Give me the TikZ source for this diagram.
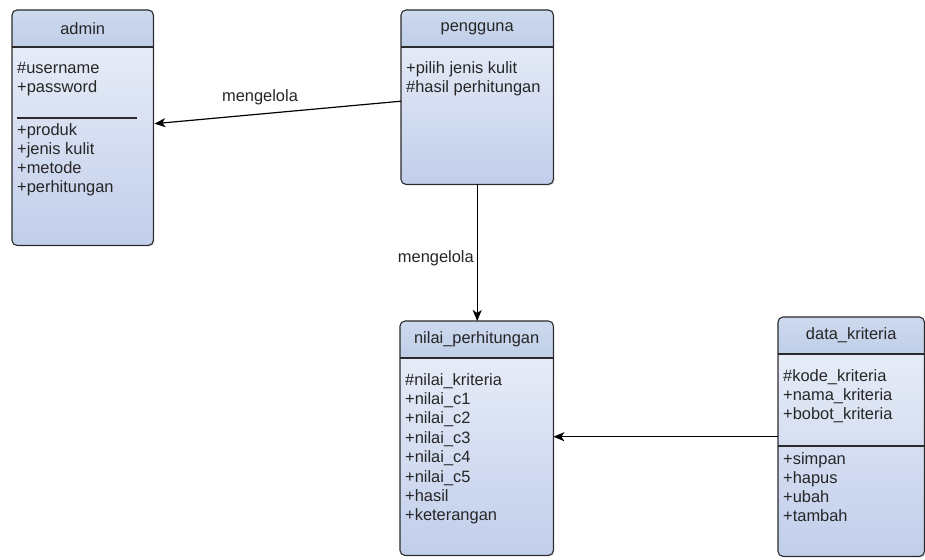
\documentclass[tikz,border=0pt]{standalone}
\usepackage{fontspec}
\setmainfont{Liberation Sans}
\usetikzlibrary{arrows.meta,calc,shadows}

\definecolor{hdrtop}{HTML}{CDD9EE}
\definecolor{hdrbot}{HTML}{BFCEE8}
\definecolor{bodytop}{HTML}{EDF1F9}
\definecolor{bodybot}{HTML}{C1CEEB}
\definecolor{edge}{HTML}{2A2A2A}

\tikzset{
  classbody/.style={rectangle, rounded corners=5bp, inner sep=0pt,
    top color=bodytop, bottom color=bodybot,
    drop shadow={shadow xshift=1.5bp, shadow yshift=-1.5bp, opacity=0.25}},
  classedge/.style={draw=edge, line width=1.1bp, rounded corners=5bp},
  titletext/.style={font=\fontsize{16.5}{19}\selectfont, text=black!85, inner sep=0pt},
  itemtext/.style={font=\fontsize{16.5}{19}\selectfont, text=black!85, inner sep=0pt, anchor=base west},
  lbltext/.style={font=\fontsize{16.5}{19}\selectfont, text=black!85, inner sep=0pt},
  divider/.style={draw=edge, line width=1.1bp},
  assoc/.style={draw=black, line width=1.2bp,
    -{Stealth[length=11bp,width=9bp,inset=3bp]}},
}

% #1 name, #2 x, #3 y, #4 width, #5 height, #6 header height, #7 title
\newcommand\umlclass[7]{%
  \node[classbody, minimum width=#4bp, minimum height=#5bp, anchor=north west] (#1) at (#2,#3) {};
  \begin{scope}
    \clip[rounded corners=5bp] (#1.north west) rectangle (#1.south east);
    \shade[top color=hdrtop, bottom color=hdrbot]
      (#1.north west) rectangle ($(#1.north east)+(0,#6)$);
  \end{scope}
  \draw[divider] ($(#1.north west)+(0,#6)$) -- ($(#1.north east)+(0,#6)$);
  \draw[classedge] (#1.north west) rectangle (#1.south east);
  \node[titletext] (#1-title) at ($(#1.north)+(0,#6/2)$) {#7};
}

\begin{document}
\begin{tikzpicture}[x=1bp, y=-1bp]
  \useasboundingbox[fill=white] (0,0) rectangle (925,560);

  % classes
  \umlclass{admin}{12}{10}{141}{235}{37}{admin}
  \umlclass{pengguna}{401}{10}{152}{174}{37}{pengguna}
  \umlclass{nilai}{400}{321}{153}{234}{37}{nilai\_perhitungan}
  \umlclass{kriteria}{778}{317}{146}{239}{37}{data\_kriteria}

  % admin members
  \node[itemtext] (a1) at (17,74) {\#username};
  \node[itemtext] (a2) at (17,93) {+password};
  \draw[divider] (17,118) -- (137,118);
  \node[itemtext] (a3) at (17,136) {+produk};
  \node[itemtext] (a4) at (17,155) {+jenis kulit};
  \node[itemtext] (a5) at (17,174) {+metode};
  \node[itemtext] (a6) at (17,193) {+perhitungan};

  % pengguna members
  \node[itemtext] (p1) at (406,74) {+pilih jenis kulit};
  \node[itemtext] (p2) at (406,93) {\#hasil perhitungan};

  % nilai_perhitungan members
  \node[itemtext] (n1) at (405,385.0) {\#nilai\_kriteria};
  \node[itemtext] (n2) at (405,404.4) {+nilai\_c1};
  \node[itemtext] (n3) at (405,423.8) {+nilai\_c2};
  \node[itemtext] (n4) at (405,443.2) {+nilai\_c3};
  \node[itemtext] (n5) at (405,462.6) {+nilai\_c4};
  \node[itemtext] (n6) at (405,482.0) {+nilai\_c5};
  \node[itemtext] (n7) at (405,501.4) {+hasil};
  \node[itemtext] (n8) at (405,520.8) {+keterangan};

  % data_kriteria members
  \node[itemtext] (k1) at (783,381) {\#kode\_kriteria};
  \node[itemtext] (k2) at (783,400) {+nama\_kriteria};
  \node[itemtext] (k3) at (783,419) {+bobot\_kriteria};
  \draw[divider] (kriteria.west |- 0,446) -- (kriteria.east |- 0,446);
  \node[itemtext] (k4) at (783,464) {+simpan};
  \node[itemtext] (k5) at (783,483) {+hapus};
  \node[itemtext] (k6) at (783,502) {+ubah};
  \node[itemtext] (k7) at (783,521) {+tambah};

  % associations
  \draw[assoc] ($(pengguna.west)+(0,4)$) -- ($(admin.east)+(1,-4)$);
  \node[lbltext] (l1) at (260,97) {mengelola};

  \draw[assoc] (pengguna.south) -- (pengguna.south |- nilai.north);
  \node[lbltext, anchor=east] (l2) at (474,258) {mengelola};

  \draw[assoc] (kriteria.west) -- (kriteria.west -| nilai.east);
\end{tikzpicture}
\end{document}
